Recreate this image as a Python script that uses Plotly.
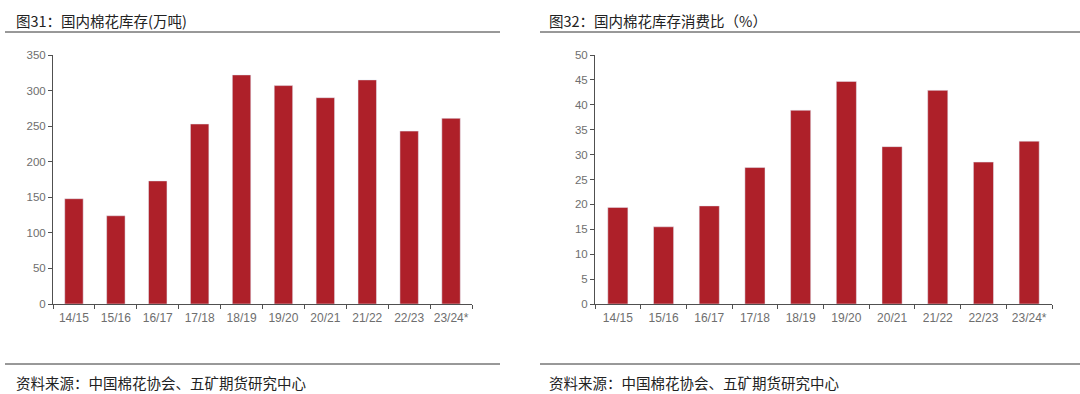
import plotly.graph_objects as go

categories = ["14/15", "15/16", "16/17", "17/18", "18/19", "19/20", "20/21", "21/22", "22/23", "23/24*"]
stock_wt = [148, 124, 173, 253, 322, 307, 290, 315, 243, 261]
stock_ratio = [19.4, 15.5, 19.7, 27.4, 38.9, 44.7, 31.6, 42.9, 28.5, 32.7]
left_yticks = [0, 50, 100, 150, 200, 250, 300, 350]
right_yticks = [0, 5, 10, 15, 20, 25, 30, 35, 40, 45, 50]

W, H = 1080, 394
BAR = "#AE2029"
AX = "#505050"
TXT = "#6e6e6e"
CJK = "Noto Sans CJK SC"
LAT = "Liberation Sans, Arial, sans-serif"

def px(x):
    return x / W

def py(y):
    return (H - y) / H

fig = go.Figure()
fig.add_trace(go.Bar(x=categories, y=stock_wt, marker_color=BAR, width=0.44,
                     xaxis="x", yaxis="y", showlegend=False))
fig.add_trace(go.Bar(x=categories, y=stock_ratio, marker_color=BAR, width=0.44,
                     xaxis="x2", yaxis="y2", showlegend=False))

xcommon = dict(type="category", showline=True, linecolor=AX, linewidth=1,
               ticks="outside", tickson="boundaries", ticklen=4, tickcolor=AX,
               ticklabelstandoff=3, tickangle=0, automargin=False,
               tickfont=dict(family=LAT, size=12, color=TXT), showgrid=False,
               zeroline=False, fixedrange=True)
ycommon = dict(showline=True, linecolor=AX, linewidth=1, ticks="outside",
               ticklen=4, tickcolor=AX, tickfont=dict(family=LAT, size=11.5, color=TXT),
               automargin=False, showgrid=False, zeroline=False, fixedrange=True)

y0, y1 = py(304), py(55)
fig.update_layout(
    width=W, height=H, margin=dict(l=0, r=0, t=0, b=0, autoexpand=False),
    paper_bgcolor="white", plot_bgcolor="white",
    bargap=0.56,
    xaxis=dict(domain=[px(53), px(472)], anchor="y", **xcommon),
    yaxis=dict(domain=[y0, y1], anchor="x", range=[0, 350], tickvals=left_yticks, **ycommon),
    xaxis2=dict(domain=[px(595), px(1052)], anchor="y2", **xcommon),
    yaxis2=dict(domain=[y0, y1], anchor="x2", range=[0, 50], tickvals=right_yticks, **ycommon),
)

# header / footer lines
for x0, x1 in [(5, 500), (540, 1080)]:
    for yy in (32, 364):
        fig.add_shape(type="line", xref="paper", yref="paper",
                      x0=px(x0), x1=px(x1), y0=py(yy), y1=py(yy),
                      line=dict(color="#333333", width=1))

ann = [
    (14, 20, "图31：国内棉花库存(万吨)"),
    (547, 20, "图32：国内棉花库存消费比（%）"),
    (14, 382, "资料来源：中国棉花协会、五矿期货研究中心"),
    (547, 382, "资料来源：中国棉花协会、五矿期货研究中心"),
]
for x, y, t in ann:
    fig.add_annotation(xref="paper", yref="paper", x=px(x), y=py(y), text=t,
                       showarrow=False, xanchor="left", yanchor="middle",
                       font=dict(family=CJK, size=14.5, color="#222222"))

fig.write_html("out.html", config={"displayModeBar": False},
               post_script="document.body.style.margin='0';document.body.style.overflow='hidden';")
